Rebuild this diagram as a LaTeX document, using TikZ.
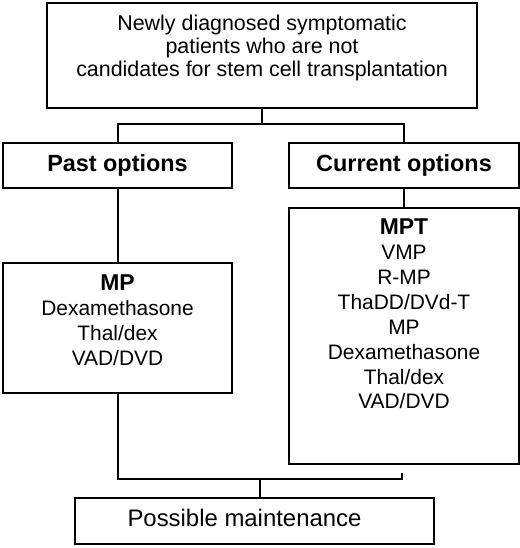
\documentclass[tikz,border=0pt]{standalone}
\usepackage{fontspec}
\setmainfont{Liberation Sans}
\begin{document}
\begin{tikzpicture}[x=1bp,y=1bp,
  box/.style={draw=black, line width=2bp, inner sep=0pt, fill=white},
  txt/.style={align=center, inner sep=0pt, font=\fontsize{21.5}{23.5}\selectfont},
  lst/.style={align=center, inner sep=0pt, font=\fontsize{21}{25}\selectfont},
  hdr/.style={font=\fontsize{23.5}{26}\selectfont\bfseries, inner sep=0pt},
  conn/.style={draw=black, line width=2bp}]
\useasboundingbox (0,0) rectangle (520,548);
% boxes
\node[box, minimum width=430bp, minimum height=105bp] (top) at (262,492.5) {};
\node[txt] (toptxt) at (262,500) {Newly diagnosed symptomatic\\patients who are not\\candidates for stem cell transplantation};
\node[box, minimum width=229bp, minimum height=45bp] (past) at (117.5,382.5) {};
\node[hdr] (pasttxt) at (117.5,382.5) {Past options};
\node[box, minimum width=230bp, minimum height=45bp] (cur) at (404,382.5) {};
\node[hdr] (curtxt) at (404,382.5) {Current options};
\node[box, minimum width=229bp, minimum height=130bp] (mp) at (117.5,220) {};
\node[lst] (mptxt) at (117.5,228) {\textbf{\fontsize{23}{25}\selectfont MP}\\Dexamethasone\\Thal/dex\\VAD/DVD};
\node[box, minimum width=230bp, minimum height=256bp] (big) at (404,212) {};
\node[lst] (bigtxt) at (404,234) {\textbf{\fontsize{23}{25}\selectfont MPT}\\VMP\\R-MP\\ThaDD/DVd-T\\MP\\Dexamethasone\\Thal/dex\\VAD/DVD};
\node[box, minimum width=359bp, minimum height=46bp] (bot) at (254.5,27) {};
\node[font=\fontsize{24}{26}\selectfont, inner sep=0pt] (bottxt) at (244.5,30) {Possible maintenance};
% connectors
\coordinate (j1) at (262,424);
\coordinate (j2) at (260,69);
\coordinate (stub) at (402,75);
\draw[conn] (top.south -| j1) -- (j1);
\draw[conn] (past.north) -- (past.north |- j1) -- (cur.north |- j1) -- (cur.north);
\draw[conn] (past.south) -- (mp.north);
\draw[conn] (cur.south) -- (big.north);
\draw[conn] (mp.south) -- (mp.south |- j2) -- (stub |- j2) -- (stub);
\draw[conn] (j2) -- (j2 |- bot.north);
\end{tikzpicture}
\end{document}
